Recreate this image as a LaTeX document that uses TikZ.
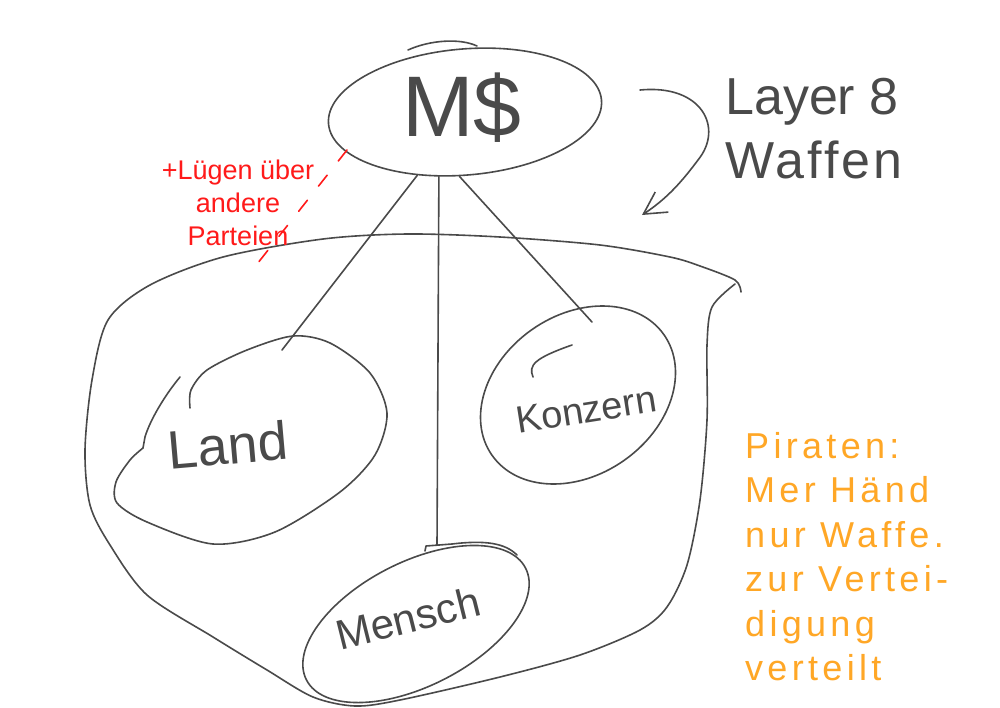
\documentclass[tikz,border=0pt]{standalone}
\usepackage{fontspec}
\setmainfont{Liberation Sans}
\usetikzlibrary{arrows.meta,shapes.geometric}
\definecolor{ink}{HTML}{4A4A4A}
\definecolor{redink}{HTML}{FF1A1A}
\definecolor{orangeink}{HTML}{FFA726}
\begin{document}
\begin{tikzpicture}[x=1pt,y=-1pt,
  pen/.style={draw=ink,line width=1.6pt,line cap=round,line join=round},
  blob/.style={ellipse,pen,inner sep=0pt},
  lbl/.style={text=ink,inner sep=0pt},
]
\useasboundingbox (0,0) rectangle (1000,707);
\fill[white] (0,0) rectangle (1000,707);

% big outline
\draw[pen] plot[smooth] coordinates {(741,292) (735,280) (700,266) (670,257) (600,245) (500,237) (407,234) (323,239) (223,257) (150,285) (108,320) (92,380) (85,450) (90,505) (110,545) (147,595) (213,637) (267,670) (313,697) (355,706) (400,700) (500,677) (580,655) (640,630) (667,607) (687,565) (700,500) (707,420) (707,345) (712,307) (735,284)};

% M$
\node[blob,minimum width=274pt,minimum height=126pt,rotate=5] (ms) at (465,112) {};
\node[lbl,font=\fontsize{86}{86}\selectfont] (mstext) at (462,108) {M\$};
\draw[pen] (408,50) .. controls (430,40) and (460,38) .. (477,46);

% Land
\draw[pen] plot[smooth] coordinates {(143,448) (130,460) (116,482) (117,503) (147,522) (213,544) (275,532) (340,492) (375,455) (387,413) (370,373) (330,343) (293,336) (247,350) (207,370) (191,390) (190,408)};
\draw[pen] (180,377) .. controls (165,395) and (150,420) .. (145,437) -- (143,448);
\coordinate (landtop) at (282,350);
\node[lbl,font=\fontsize{54}{54}\selectfont,rotate=5] (landtext) at (228,445) {Land};

% Konzern
\node[blob,minimum width=210pt,minimum height=160pt,rotate=35] (konzern) at (578,395) {};
\draw[pen] (533,377) .. controls (528,365) and (535,358) .. (572,345);
\coordinate (konzerntop) at (592,322);
\node[lbl,font=\fontsize{38}{38}\selectfont,rotate=9] (konzerntext) at (586,410) {Konzern};

% Mensch
\node[blob,minimum width=246pt,minimum height=124pt,rotate=27] (mensch) at (416,624) {};
\draw[pen] (425,551) -- (426,546) -- (452,544) .. controls (485,540) and (505,543) .. (517,555);
\coordinate (menschtop) at (437,545);
\node[lbl,font=\fontsize{42}{42}\selectfont,rotate=14] (menschtext) at (408,618) {Mensch};

% connectors
\draw[pen] (ms.228) -- (landtop);
\draw[pen] (ms.243) -- (menschtop);
\draw[pen] (ms.260) -- (konzerntop);

% arrow
\coordinate (arrowstart) at (640,90);
\coordinate (arrowtip) at (642,215);
\draw[pen,-{Straight Barb[length=22pt,width=24pt]}] (arrowstart) .. controls (702,84) and (724,128) .. (698,160) .. controls (683,180) and (668,198) .. (arrowtip);
\node[lbl,font=\fontsize{52}{64}\selectfont,align=left,anchor=north west] (layer) at (725,78) {Layer 8\\\addfontfeatures{LetterSpace=6}Waffen};

% red
\coordinate (dashtop) at (347,150);
\coordinate (dashbot) at (250,273);
\draw[redink,line width=1.6pt,line cap=round,dash pattern=on 14pt off 18pt] (dashtop) -- (dashbot);
\node[text=redink,inner sep=0pt,font=\fontsize{27}{33}\selectfont,align=center] (lies) at (238,203) {+Lügen über\\andere\\Parteien};

% orange
\node[text=orangeink,inner sep=0pt,font=\fontsize{36}{44.5}\selectfont\addfontfeatures{LetterSpace=12},align=left,anchor=north west] (piraten) at (745,432) {Piraten:\\Mer Händ\\nur Waffe.\\zur Vertei-\\digung\\verteilt};
\end{tikzpicture}
\end{document}
